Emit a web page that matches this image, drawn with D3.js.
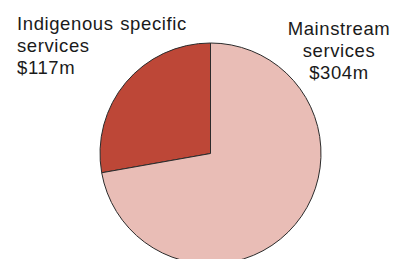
<!DOCTYPE html>
<html lang="en">
<head>
<meta charset="UTF-8">
<title>Services spending</title>
<style>
  html, body { margin: 0; padding: 0; background: #fff; }
  svg { display: block; }
  text { font-family: "Liberation Sans", Arial, sans-serif; fill: #1a1a1a; }
</style>
</head>
<body>
<svg id="chart" width="395" height="259"></svg>
<script src="https://cdn.jsdelivr.net/npm/d3@7"></script>
<script>
  // values in $m
  var categories = ["Indigenous specific services", "Mainstream services"];
  var amounts = [117, 304];
  var labelLines = [
    ["Indigenous specific", "services", "$117m"],
    ["Mainstream", "services", "$304m"]
  ];
  var colours = ["#bd4737", "#e9bdb6"];

  var svg = d3.select("#chart");
  var cx = 210.5, cy = 153.5, radius = 110.5;

  // pie goes anticlockwise from 12 o'clock for the first slice
  var pie = d3.pie().sort(null)
    .startAngle(0).endAngle(-2 * Math.PI);
  var arc = d3.arc().innerRadius(0).outerRadius(radius);

  var slices = pie(amounts);

  svg.append("g")
    .attr("transform", "translate(" + cx + "," + cy + ")")
    .selectAll("path")
    .data(slices)
    .join("path")
    .attr("d", arc)
    .attr("fill", (d, i) => colours[i])
    .attr("stroke", "#2b2b2b")
    .attr("stroke-width", 1);

  // labels
  var labelPos = [
    { x: 17, y: 30, anchor: "start" },
    { x: 339, y: 35, anchor: "middle" }
  ];
  var lineH = 22;

  labelLines.forEach(function(lines, i) {
    var t = svg.append("text")
      .attr("x", labelPos[i].x)
      .attr("y", labelPos[i].y)
      .attr("text-anchor", labelPos[i].anchor)
      .style("font-size", "18.5px")
      .style("letter-spacing", "0.6px")
      .style("word-spacing", "1px");
    lines.forEach(function(s, j) {
      t.append("tspan")
        .attr("x", labelPos[i].x)
        .attr("dy", j === 0 ? 0 : lineH)
        .text(s);
    });
  });
</script>
</body>
</html>
